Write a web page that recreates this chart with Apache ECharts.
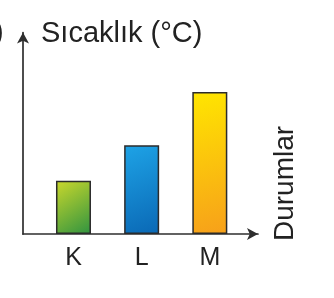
<!DOCTYPE html>
<html>
<head>
<meta charset="utf-8">
<script src="https://cdn.jsdelivr.net/npm/echarts@6/dist/echarts.min.js"></script>
<style>
html,body{margin:0;padding:0;background:#fff;}
#chart{width:334px;height:298px;}
</style>
</head>
<body>
<div id="chart"></div>
<script>
var categories = ['K', 'L', 'M'];
var values = [3, 5, 8];
var yAxisName = 'Sıcaklık (°C)';
var xAxisName = 'Durumlar';

var gradients = [
  ['#cbd82c', '#2f9340'],
  ['#1ea3e6', '#0a68b5'],
  ['#ffe600', '#f7a01a']
];

var chart = echarts.init(document.getElementById('chart'));
var FONT = '"Liberation Sans", Arial, sans-serif';

chart.setOption({
  animation: false,
  backgroundColor: '#fff',
  grid: [
    {left: 23, right: 76, top: 32.5, bottom: 64},
    {left: 39.4, width: 204.5, top: 21, bottom: 64}
  ],
  xAxis: [
    {
      type: 'value', gridIndex: 0, min: 0, max: 1,
      axisLine: {show: true, lineStyle: {color: '#2e2e2e', width: 1.7}, symbol: ['none', 'arrow'], symbolSize: [9, 11]},
      axisTick: {show: false}, axisLabel: {show: false}, splitLine: {show: false}
    },
    {
      type: 'category', gridIndex: 1, data: categories,
      axisLine: {show: false}, axisTick: {show: false}, splitLine: {show: false},
      axisLabel: {color: '#222', fontSize: 25, fontFamily: FONT, margin: 12}
    }
  ],
  yAxis: [
    {
      type: 'value', gridIndex: 0, min: 0, max: 1,
      name: yAxisName, nameLocation: 'end', nameGap: -1,
      nameTextStyle: {color: '#222', fontSize: 29, fontFamily: FONT, align: 'left', verticalAlign: 'middle', padding: [0, 0, 0, 18]},
      axisLine: {show: true, lineStyle: {color: '#2e2e2e', width: 1.7}, symbol: ['none', 'arrow'], symbolSize: [9, 11]},
      axisTick: {show: false}, axisLabel: {show: false}, splitLine: {show: false}
    },
    {
      type: 'value', gridIndex: 1, min: 0, max: 12,
      axisLine: {show: false}, axisTick: {show: false}, axisLabel: {show: false}, splitLine: {show: false}
    }
  ],
  graphic: [
    {
      type: 'text', left: -6, top: 18,
      style: {text: ')', fontSize: 29, fontFamily: FONT, fill: '#222'}
    },
    {
      type: 'text', x: 285, y: 241, rotation: Math.PI / 2,
      style: {text: xAxisName, fontSize: 28, fontFamily: FONT, fill: '#222', align: 'left', verticalAlign: 'middle'}
    }
  ],
  series: [{
    type: 'bar', xAxisIndex: 1, yAxisIndex: 1, barWidth: 35,
    data: values.map(function (v, i) {
      return {
        value: v,
        itemStyle: {
          borderColor: '#2b2b2b', borderWidth: 1.5,
          color: {type: 'linear', x: 0, y: 0, x2: 1, y2: 1, colorStops: [
            {offset: 0, color: gradients[i][0]},
            {offset: 1, color: gradients[i][1]}
          ]}
        }
      };
    })
  }]
});
</script>
</body>
</html>
